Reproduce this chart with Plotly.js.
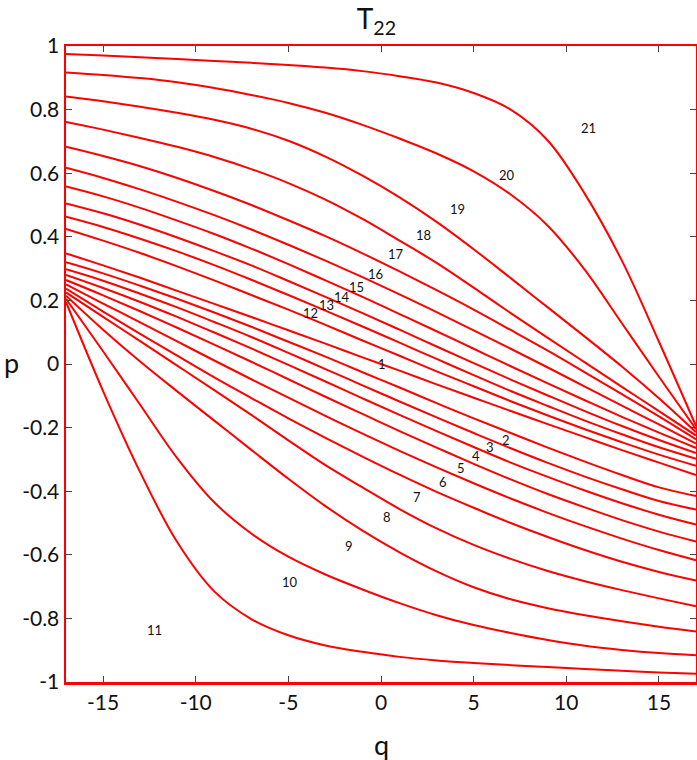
<!DOCTYPE html>
<html>
<head>
<meta charset="utf-8">
<script src="https://cdn.plot.ly/plotly-3.0.1.min.js"></script>
<style>
  html, body { margin: 0; padding: 0; background: #fff; }
  #plot { width: 697px; height: 760px; }
</style>
</head>
<body>
<div id="plot"></div>
<script>
// q positions where every curve was read
let qGrid = [-17, -15, -13, -11, -9, -7, -5, -3, -1, 1, 3, 5, 7, 9, 11, 13, 15, 17];

// p values, one array per labelled curve
let curve1  = [0.348, 0.310, 0.271, 0.230, 0.189, 0.148, 0.106, 0.064, 0.021, -0.021, -0.064, -0.106, -0.148, -0.189, -0.230, -0.271, -0.310, -0.349];
let curve2  = [0.320, 0.285, 0.246, 0.205, 0.162, 0.117, 0.070, 0.023, -0.026, -0.074, -0.123, -0.171, -0.217, -0.263, -0.307, -0.349, -0.388, -0.415];
let curve3  = [0.298, 0.262, 0.221, 0.178, 0.132, 0.085, 0.035, -0.016, -0.067, -0.118, -0.168, -0.217, -0.265, -0.311, -0.354, -0.394, -0.431, -0.458];
let curve4  = [0.280, 0.239, 0.195, 0.148, 0.099, 0.049, -0.003, -0.055, -0.108, -0.160, -0.211, -0.261, -0.310, -0.355, -0.398, -0.438, -0.474, -0.505];
let curve5  = [0.264, 0.216, 0.166, 0.114, 0.061, 0.007, -0.048, -0.103, -0.157, -0.211, -0.263, -0.314, -0.363, -0.409, -0.451, -0.491, -0.527, -0.558];
let curve6  = [0.250, 0.190, 0.131, 0.071, 0.011, -0.048, -0.106, -0.163, -0.219, -0.273, -0.325, -0.375, -0.423, -0.468, -0.510, -0.549, -0.585, -0.617];
let curve7  = [0.237, 0.165, 0.095, 0.026, -0.042, -0.107, -0.171, -0.232, -0.291, -0.348, -0.402, -0.452, -0.500, -0.544, -0.585, -0.622, -0.654, -0.681];
let curve8  = [0.225, 0.148, 0.072, -0.005, -0.082, -0.160, -0.240, -0.318, -0.388, -0.456, -0.517, -0.569, -0.613, -0.651, -0.683, -0.711, -0.737, -0.762];
let curve9  = [0.215, 0.108, 0.008, -0.086, -0.178, -0.270, -0.361, -0.447, -0.524, -0.592, -0.652, -0.702, -0.740, -0.768, -0.790, -0.809, -0.826, -0.841];
let curve10 = [0.205, 0.040, -0.128, -0.296, -0.435, -0.533, -0.606, -0.662, -0.709, -0.752, -0.790, -0.821, -0.846, -0.868, -0.886, -0.899, -0.909, -0.916];
let curve11 = [0.195, -0.085, -0.340, -0.560, -0.715, -0.802, -0.853, -0.885, -0.905, -0.921, -0.932, -0.940, -0.947, -0.953, -0.959, -0.965, -0.970, -0.974];
let curve12 = [0.425, 0.388, 0.349, 0.307, 0.263, 0.217, 0.171, 0.123, 0.074, 0.026, -0.023, -0.070, -0.117, -0.162, -0.205, -0.246, -0.285, -0.320];
let curve13 = [0.463, 0.431, 0.394, 0.354, 0.311, 0.265, 0.217, 0.168, 0.118, 0.067, 0.016, -0.035, -0.085, -0.132, -0.178, -0.221, -0.262, -0.298];
let curve14 = [0.505, 0.474, 0.438, 0.398, 0.355, 0.310, 0.261, 0.211, 0.160, 0.108, 0.055, 0.003, -0.049, -0.099, -0.148, -0.195, -0.239, -0.280];
let curve15 = [0.558, 0.527, 0.491, 0.451, 0.409, 0.363, 0.314, 0.263, 0.211, 0.157, 0.103, 0.048, -0.007, -0.061, -0.114, -0.166, -0.216, -0.264];
let curve16 = [0.617, 0.585, 0.549, 0.510, 0.468, 0.423, 0.375, 0.325, 0.273, 0.219, 0.163, 0.106, 0.048, -0.011, -0.071, -0.131, -0.190, -0.250];
let curve17 = [0.683, 0.654, 0.622, 0.585, 0.544, 0.500, 0.452, 0.402, 0.348, 0.291, 0.232, 0.171, 0.107, 0.042, -0.026, -0.095, -0.165, -0.237];
let curve18 = [0.761, 0.737, 0.711, 0.683, 0.651, 0.613, 0.569, 0.517, 0.456, 0.388, 0.318, 0.240, 0.160, 0.082, 0.005, -0.072, -0.148, -0.225];
let curve19 = [0.841, 0.826, 0.809, 0.790, 0.768, 0.740, 0.702, 0.652, 0.592, 0.524, 0.447, 0.361, 0.270, 0.178, 0.086, -0.008, -0.108, -0.215];
let curve20 = [0.917, 0.909, 0.899, 0.886, 0.868, 0.846, 0.821, 0.790, 0.752, 0.709, 0.662, 0.606, 0.533, 0.435, 0.296, 0.128, -0.040, -0.205];
let curve21 = [0.975, 0.970, 0.965, 0.959, 0.953, 0.947, 0.940, 0.932, 0.921, 0.905, 0.885, 0.852, 0.800, 0.703, 0.535, 0.325, 0.070, -0.195];

let curves = [curve1, curve2, curve3, curve4, curve5, curve6, curve7, curve8, curve9, curve10, curve11,
              curve12, curve13, curve14, curve15, curve16, curve17, curve18, curve19, curve20, curve21];

// label text and where it sits (q, p)
let labelText = ["1", "2", "3", "4", "5", "6", "7", "8", "9", "10", "11",
                 "12", "13", "14", "15", "16", "17", "18", "19", "20", "21"];
let labelQ = [0.05, 6.76, 5.9, 5.1, 4.3, 3.35, 1.95, 0.3, -1.75, -4.9, -12.25,
              -3.8, -2.95, -2.1, -1.3, -0.3, 0.8, 2.3, 4.15, 6.8, 11.2];
let labelP = [0.0, -0.238, -0.260, -0.290, -0.327, -0.370, -0.417, -0.480, -0.572, -0.686, -0.836,
              0.160, 0.186, 0.212, 0.242, 0.283, 0.346, 0.406, 0.487, 0.594, 0.742];

let xTickVals = [-15, -10, -5, 0, 5, 10, 15];
let xTickText = ["-15", "-10", "-5", "0", "5", "10", "15"];
let yTickVals = [1, 0.8, 0.6, 0.4, 0.2, 0, -0.2, -0.4, -0.6, -0.8, -1];
let yTickText = ["1", "0.8", "0.6", "0.4", "0.2", "0", "-0.2", "-0.4", "-0.6", "-0.8", "-1"];

let traces = curves.map(function (c, i) {
  return {
    x: qGrid,
    y: c,
    type: "scatter",
    mode: "lines",
    name: labelText[i],
    line: { color: "#ff0000", width: 2, shape: "spline", smoothing: 1 },
    hoverinfo: "skip"
  };
});

let annotations = labelText.map(function (t, i) {
  return {
    x: labelQ[i], y: labelP[i], text: t, showarrow: false,
    font: { size: 13, color: "#111" }
  };
});

// axis names placed as paper annotations so they can sit where the reference has them
annotations.push({
  xref: "paper", yref: "paper", x: -0.087, y: 0.503,
  xanchor: "center", yanchor: "middle",
  text: "p", showarrow: false, font: { size: 27, color: "#111" }
});
annotations.push({
  xref: "paper", yref: "paper", x: 0.5, y: -0.099,
  xanchor: "center", yanchor: "middle",
  text: "q", showarrow: false, font: { size: 27, color: "#111" }
});

let axisCommon = {
  ticks: "inside",
  ticklen: 6,
  tickwidth: 1,
  tickcolor: "#444",
  showline: true,
  linecolor: "#ff0000",
  linewidth: 2.5,
  mirror: "ticks",
  showgrid: false,
  zeroline: false,
  tickfont: { size: 21, color: "#111" },
  automargin: false
};

let layout = {
  width: 697,
  height: 760,
  font: { family: "Lato, 'Open Sans', sans-serif", color: "#111" },
  paper_bgcolor: "#fff",
  plot_bgcolor: "#fff",
  showlegend: false,
  margin: { l: 66, r: 1, t: 46, b: 78 },
  title: {
    text: "T<sub>22</sub>",
    x: 0.54, xanchor: "center",
    y: 0.987, yanchor: "top",
    font: { size: 28, color: "#111" }
  },
  xaxis: Object.assign({}, axisCommon, {
    range: [-17, 17],
    tickvals: xTickVals,
    ticktext: xTickText
  }),
  yaxis: Object.assign({}, axisCommon, {
    range: [-1, 1],
    tickvals: yTickVals,
    ticktext: yTickText
  }),
  annotations: annotations
};

Plotly.newPlot("plot", traces, layout, { displayModeBar: false, staticPlot: true });
</script>
</body>
</html>
